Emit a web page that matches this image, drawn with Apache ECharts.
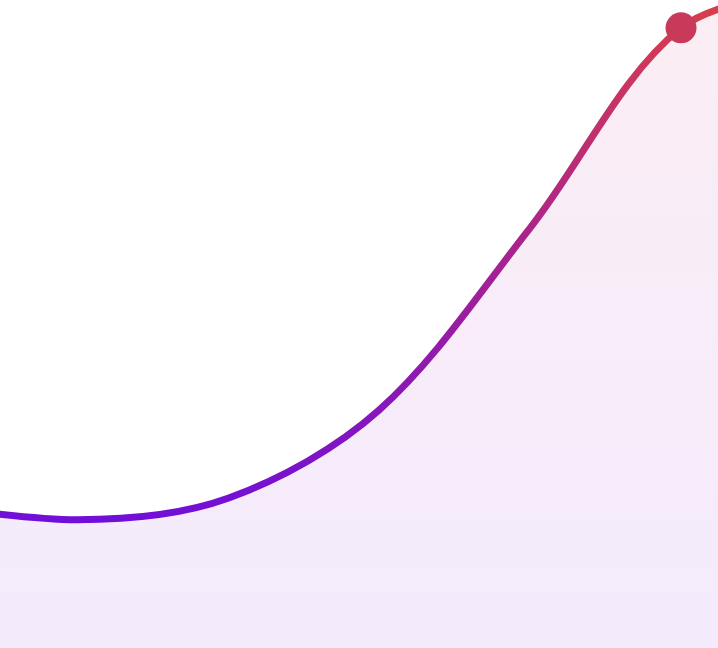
<!DOCTYPE html>
<html>
<head>
<meta charset="utf-8">
<script src="https://cdn.jsdelivr.net/npm/echarts@6/dist/echarts.min.js"></script>
<style>
  html, body { margin: 0; padding: 0; background: #fff; }
  #chart { width: 718px; height: 648px; }
</style>
</head>
<body>
<div id="chart"></div>
<script>
// evenly spaced samples of the curve (only part of the range is visible)
var xs = [0, 1, 2, 3, 4, 5, 6];
var values = [22.1, 19.8, 23.1, 36.7, 64.8, 95.7, 102.2];
// highlighted point
var highlight = [5, 95.7];

var chart = echarts.init(document.getElementById('chart'));

var lineData = xs.map(function (x, i) { return [x, values[i]]; });

chart.setOption({
  animation: false,
  grid: { left: 0, right: 0, top: 0, bottom: 0 },
  xAxis: { type: 'value', min: 0.49, max: 5.245, show: false },
  yAxis: { type: 'value', min: 0, max: 100, show: false },
  series: [
    {
      type: 'line',
      data: lineData,
      smooth: 0.33,
      showSymbol: false,
      clip: true,
      lineStyle: {
        width: 7,
        color: new echarts.graphic.LinearGradient(0, 0, 0, 1, [
          { offset: 0, color: '#dc4146' },
          { offset: 0.5, color: '#a8228f' },
          { offset: 1, color: '#700fd9' }
        ])
      },
      areaStyle: {
        color: new echarts.graphic.LinearGradient(0, 0, 0, 1, [
          { offset: 0, color: 'rgba(214,60,130,0.13)' },
          { offset: 1, color: 'rgba(120,20,220,0.12)' }
        ])
      }
    },
    {
      type: 'scatter',
      data: [highlight],
      symbolSize: 31,
      itemStyle: { color: '#c9395a', opacity: 1 },
      z: 5
    }
  ]
});
</script>
</body>
</html>
